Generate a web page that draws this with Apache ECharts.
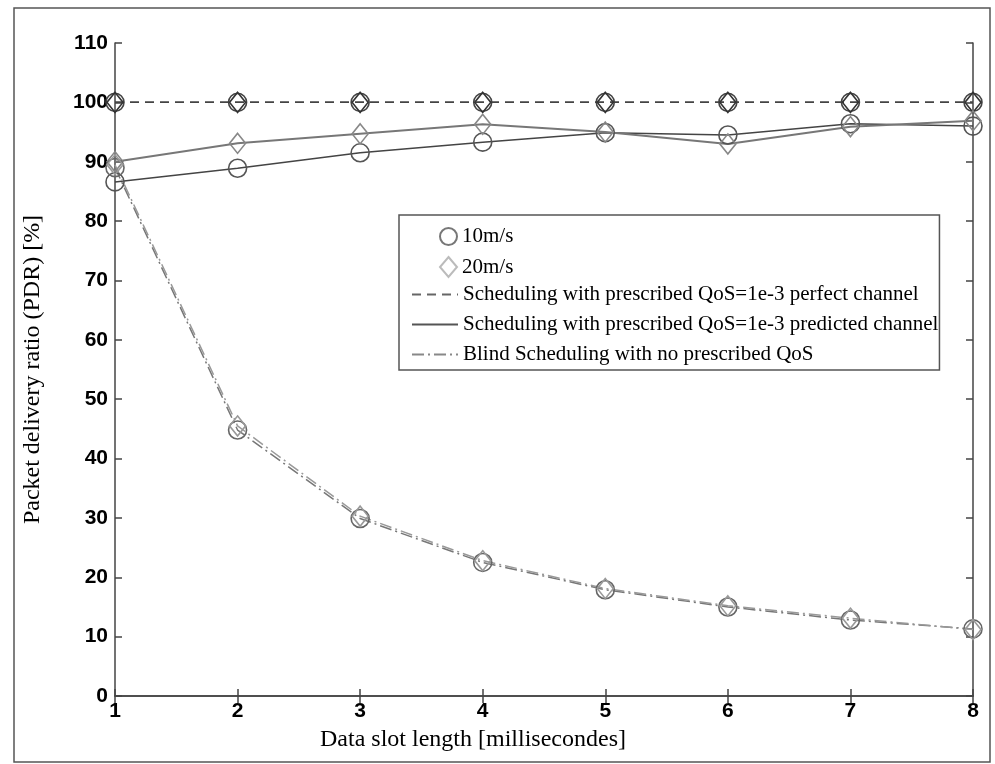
<!DOCTYPE html>
<html>
<head>
<meta charset="utf-8">
<script src="https://cdn.jsdelivr.net/npm/echarts@6/dist/echarts.min.js"></script>
<style>
html,body{margin:0;padding:0;background:#fff;}
#chart{width:995px;height:764px;}
</style>
</head>
<body>
<div id="chart"></div>
<script>
// ---- data ----
const slotLengths = [1, 2, 3, 4, 5, 6, 7, 8];
const perfect10 = [100, 100, 100, 100, 100, 100, 100, 100];
const perfect20 = [100, 100, 100, 100, 100, 100, 100, 100];
const predicted10 = [86.6, 88.9, 91.5, 93.3, 94.9, 94.5, 96.4, 96.0];
const predicted20 = [90.0, 93.1, 94.7, 96.3, 95.0, 93.0, 95.9, 96.9];
const blind10 = [89.0, 44.8, 29.9, 22.5, 17.9, 15.0, 12.8, 11.3];
const blind20 = [89.5, 45.5, 30.3, 22.8, 18.1, 15.2, 13.1, 11.2];
const yTicks = [0, 10, 20, 30, 40, 50, 60, 70, 80, 90, 100, 110];

const nameSpeed10 = '10m/s';
const nameSpeed20 = '20m/s';
const namePerfect = 'Scheduling with prescribed QoS=1e-3 perfect channel';
const namePredicted = 'Scheduling with prescribed QoS=1e-3 predicted channel';
const nameBlind = 'Blind Scheduling with no prescribed QoS';

function pairs(ys) { return slotLengths.map((x, i) => [x, ys[i]]); }

const DASH = [9, 6];
const DASHDOT = [12, 4, 2, 4];
const CIRCLE_SIZE = 18;
const DIAMOND_SIZE = [16, 20];
const clear = 'rgba(0,0,0,0)';

function dataSeries(id, ys, lineColor, lineWidth, lineType, symbol, symSize, markerColor) {
  return {
    id: id, name: id, type: 'line', data: pairs(ys),
    symbol: symbol, symbolSize: symSize, showAllSymbol: true,
    lineStyle: { color: lineColor, width: lineWidth, type: lineType },
    itemStyle: { color: clear, borderColor: markerColor, borderWidth: 1.6 },
    emphasis: { disabled: true }, z: 3
  };
}

function legendLine(name, color, type) {
  return {
    name: name, type: 'line', data: [], symbol: 'none',
    lineStyle: { color: color, width: 1.5, type: type },
    itemStyle: { color: clear, borderColor: clear, borderWidth: 0, opacity: 0 }
  };
}

const axisLine = { show: true, lineStyle: { color: '#444', width: 1.5 } };
const tickInside = { show: true, inside: true, length: 7, lineStyle: { color: '#444', width: 1.5 } };
const labelFont = { fontFamily: 'Liberation Sans', fontWeight: 'bold', fontSize: 21, color: '#000' };

const option = {
  backgroundColor: '#fff',
  animation: false,
  grid: { left: 115, right: 22, top: 43, bottom: 68, containLabel: false },
  graphic: [{
    type: 'rect', shape: { x: 14, y: 8, width: 976, height: 754 },
    style: { fill: 'none', stroke: '#555', lineWidth: 1.5 }, silent: true, z: -1
  }],
  xAxis: [{
    type: 'value', min: 1, max: 8, interval: 1, position: 'bottom',
    name: 'Data slot length [millisecondes]', nameLocation: 'middle', nameGap: 32,
    nameTextStyle: { fontFamily: 'Liberation Serif', fontSize: 24, color: '#000', padding: [0, 142, 0, 0] },
    axisLine: axisLine, axisTick: tickInside,
    axisLabel: Object.assign({ margin: 5 }, labelFont),
    splitLine: { show: false }
  }, {
    type: 'value', min: 1, max: 8, interval: 1, position: 'top',
    axisLine: axisLine, axisTick: tickInside, axisLabel: { show: false }, splitLine: { show: false }
  }],
  yAxis: [{
    type: 'value', min: yTicks[0], max: yTicks[yTicks.length - 1], interval: 10, position: 'left',
    name: 'Packet delivery ratio (PDR) [%]', nameLocation: 'middle', nameGap: 70,
    nameTextStyle: { fontFamily: 'Liberation Serif', fontSize: 24, color: '#000' },
    axisLine: axisLine, axisTick: tickInside,
    axisLabel: Object.assign({ margin: 7 }, labelFont),
    splitLine: { show: false }
  }, {
    type: 'value', min: yTicks[0], max: yTicks[yTicks.length - 1], interval: 10, position: 'right',
    axisLine: axisLine, axisTick: tickInside, axisLabel: { show: false }, splitLine: { show: false }
  }],
  legend: [{
    orient: 'vertical', left: 439, top: 226, padding: 0,
    itemWidth: 17, itemHeight: 20, itemGap: 9,
    textStyle: { fontFamily: 'Liberation Serif', fontSize: 21, color: '#000', lineHeight: 20 },
    data: [nameSpeed10, nameSpeed20], selectedMode: false
  }, {
    orient: 'vertical', left: 399, top: 215, padding: [69, 1, 5, 12],
    borderColor: '#555', borderWidth: 1.5,
    itemWidth: 46, itemHeight: 20, itemGap: 9,
    textStyle: { fontFamily: 'Liberation Serif', fontSize: 21, color: '#000', lineHeight: 20 },
    data: [namePerfect, namePredicted, nameBlind], selectedMode: false
  }],
  series: [
    // legend entries
    { name: nameSpeed10, type: 'scatter', data: [], symbol: 'circle', symbolSize: CIRCLE_SIZE,
      itemStyle: { color: clear, borderColor: '#555', borderWidth: 1.6 } },
    { name: nameSpeed20, type: 'scatter', data: [], symbol: 'diamond', symbolSize: DIAMOND_SIZE,
      itemStyle: { color: clear, borderColor: '#aaa', borderWidth: 1.6 } },
    legendLine(namePerfect, '#666', DASH),
    legendLine(namePredicted, '#555', 'solid'),
    legendLine(nameBlind, '#888', DASHDOT),
    // plotted data
    dataSeries('perfect 10m/s', perfect10, '#444', 1.5, DASH, 'circle', CIRCLE_SIZE, '#444'),
    dataSeries('perfect 20m/s', perfect20, '#444', 1.5, DASH, 'diamond', DIAMOND_SIZE, '#333'),
    dataSeries('predicted 10m/s', predicted10, '#444', 1.5, 'solid', 'circle', CIRCLE_SIZE, '#555'),
    dataSeries('predicted 20m/s', predicted20, '#777', 2, 'solid', 'diamond', DIAMOND_SIZE, '#888'),
    dataSeries('blind 10m/s', blind10, '#777', 1.5, DASHDOT, 'circle', CIRCLE_SIZE, '#666'),
    dataSeries('blind 20m/s', blind20, '#999', 1.5, DASHDOT, 'diamond', DIAMOND_SIZE, '#999')
  ]
};

const chart = echarts.init(document.getElementById('chart'), null, { renderer: 'canvas' });
chart.setOption(option);
</script>
</body>
</html>
